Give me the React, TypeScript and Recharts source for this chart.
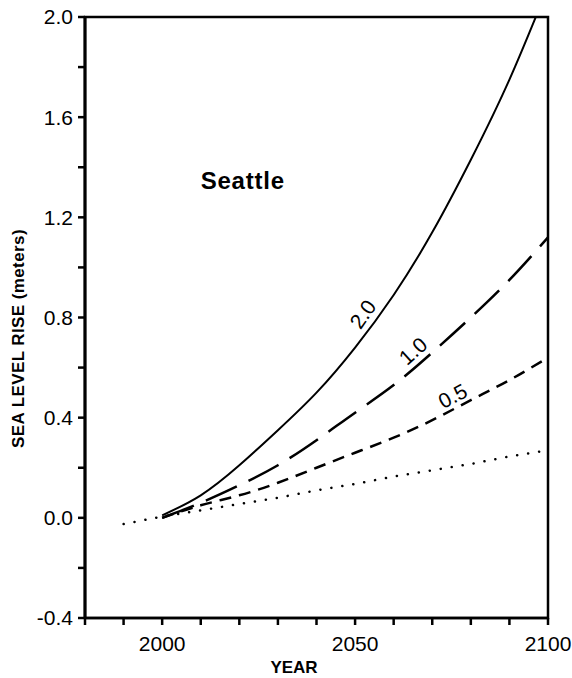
import { LineChart, Line, XAxis, YAxis, ReferenceDot, ReferenceArea } from "recharts";

const YEARS = [1990, 2000, 2010, 2020, 2030, 2040, 2050, 2060, 2070, 2080, 2090, 2100];
const RISE_2_0 = [null, 0.01, 0.09, 0.21, 0.35, 0.5, 0.68, 0.89, 1.14, 1.43, 1.75, 2.12];
const RISE_1_0 = [null, 0.0, 0.06, 0.13, 0.21, 0.31, 0.42, 0.53, 0.66, 0.8, 0.95, 1.12];
const RISE_0_5 = [null, 0.0, 0.05, 0.09, 0.14, 0.2, 0.26, 0.32, 0.39, 0.47, 0.55, 0.64];
const TREND = [-0.025, 0.005, 0.03, 0.055, 0.08, 0.11, 0.135, 0.165, 0.19, 0.215, 0.245, 0.27];

const X_TICKS = [1980, 1990, 2000, 2010, 2020, 2030, 2040, 2050, 2060, 2070, 2080, 2090, 2100];
const X_LABELS = [2000, 2050, 2100];
const Y_TICKS = [-0.4, -0.2, 0, 0.2, 0.4, 0.6, 0.8, 1.0, 1.2, 1.4, 1.6, 1.8, 2.0];

// curve annotations: [text, year, value, angle]
const CURVE_LABELS: Array<[string, number, number, number]> = [
  ["2.0", 2052, 0.814, -55],
  ["1.0", 2065, 0.667, -42],
  ["0.5", 2075.3, 0.487, -28],
];

const data = YEARS.map((year, i) => ({
  year,
  r20: RISE_2_0[i],
  r10: RISE_1_0[i],
  r05: RISE_0_5[i],
  trend: TREND[i],
}));

const FONT = "'Liberation Sans', Arial, Helvetica, sans-serif";

const tickStyle = { fontSize: 21, fill: "#000", fontFamily: FONT };

const centerOf = (p: any) => {
  const vb = p.viewBox || {};
  const x = vb.cx ?? vb.x + (vb.width || 0) / 2;
  const y = vb.cy ?? vb.y + (vb.height || 0) / 2;
  return [x, y];
};

const rotatedLabel = (text: string, angle: number, size = 21) => (p: any) => {
  const [x, y] = centerOf(p);
  return (
    <text
      x={x}
      y={y}
      textAnchor="middle"
      dominantBaseline="central"
      transform={`rotate(${angle}, ${x}, ${y})`}
      fontFamily={FONT}
      fontSize={size}
      fill="#000"
    >
      {text}
    </text>
  );
};

const yLabel = (p: any) => {
  const vb = p.viewBox;
  const x = vb.x + 18;
  const y = vb.y + vb.height / 2 + 21;
  return (
    <text
      x={x}
      y={y}
      textAnchor="middle"
      dominantBaseline="central"
      transform={`rotate(-90, ${x}, ${y})`}
      fontFamily={FONT}
      fontWeight="bold"
      fontSize={17}
      letterSpacing={0.4}
      fill="#000"
    >
      SEA LEVEL RISE (meters)
    </text>
  );
};

const xLabel = (p: any) => {
  const vb = p.viewBox;
  const x = vb.x + 209;
  const y = vb.y + 49;
  return (
    <text x={x} y={y} textAnchor="middle" dominantBaseline="central" fontFamily={FONT} fontWeight="bold" fontSize={17} fill="#000">
      YEAR
    </text>
  );
};

const seattleLabel = (p: any) => {
  const [x, y] = centerOf(p);
  return (
    <text x={x} y={y} textAnchor="middle" dominantBaseline="central" fontFamily={FONT} fontWeight="bold" fontSize={24} letterSpacing={0.8} fill="#000">
      Seattle
    </text>
  );
};

export default function App() {
  return (
    <div style={{ position: "absolute", left: 0, top: 0, background: "#fff" }}>
      <LineChart width={572} height={678} data={data} margin={{ top: 17, right: 24, bottom: 0, left: 0 }}>
        <XAxis
          dataKey="year"
          type="number"
          domain={[1980, 2100]}
          ticks={X_TICKS}
          interval={0}
          height={60}
          tickSize={7}
          tickMargin={11}
          tick={tickStyle}
          tickFormatter={(v: number) => (X_LABELS.includes(v) ? String(v) : "")}
          axisLine={{ stroke: "#000", strokeWidth: 2.5 }}
          tickLine={{ stroke: "#000", strokeWidth: 2.5 }}
          label={xLabel}
        />
        <YAxis
          type="number"
          domain={[-0.4, 2.0]}
          allowDataOverflow
          ticks={Y_TICKS}
          interval={0}
          width={85}
          tickSize={7}
          tickMargin={5}
          tick={tickStyle}
          tickFormatter={(v: number) => (Math.round(v * 10) % 4 === 0 ? v.toFixed(1) : "")}
          axisLine={{ stroke: "#000", strokeWidth: 3 }}
          tickLine={{ stroke: "#000", strokeWidth: 2.5 }}
          label={yLabel}
        />
        <ReferenceArea
          x1={1980}
          x2={2100}
          y1={-0.4}
          y2={2.0}
          fill="none"
          fillOpacity={0}
          stroke="#000"
          strokeWidth={2.5}
          ifOverflow="visible"
        />
        <Line
          dataKey="trend"
          type="linear"
          stroke="#000"
          strokeWidth={2.5}
          strokeDasharray="0.1 11"
          strokeLinecap="round"
          dot={false}
          isAnimationActive={false}
        />
        <Line
          dataKey="r05"
          type="natural"
          stroke="#000"
          strokeWidth={2.5}
          strokeDasharray="12 8"
          dot={false}
          isAnimationActive={false}
        />
        <Line
          dataKey="r10"
          type="natural"
          stroke="#000"
          strokeWidth={2.5}
          strokeDasharray="34 13"
          dot={false}
          isAnimationActive={false}
        />
        <Line
          dataKey="r20"
          type="natural"
          stroke="#000"
          strokeWidth={2}
          dot={false}
          isAnimationActive={false}
        />
        {CURVE_LABELS.map(([text, x, y, angle]) => (
          <ReferenceDot
            key={text}
            x={x}
            y={y}
            r={0}
            fill="none"
            stroke="none"
            label={rotatedLabel(text, angle)}
          />
        ))}
        <ReferenceDot x={2020.9} y={1.349} r={0} fill="none" stroke="none" label={seattleLabel} />
      </LineChart>
    </div>
  );
}
